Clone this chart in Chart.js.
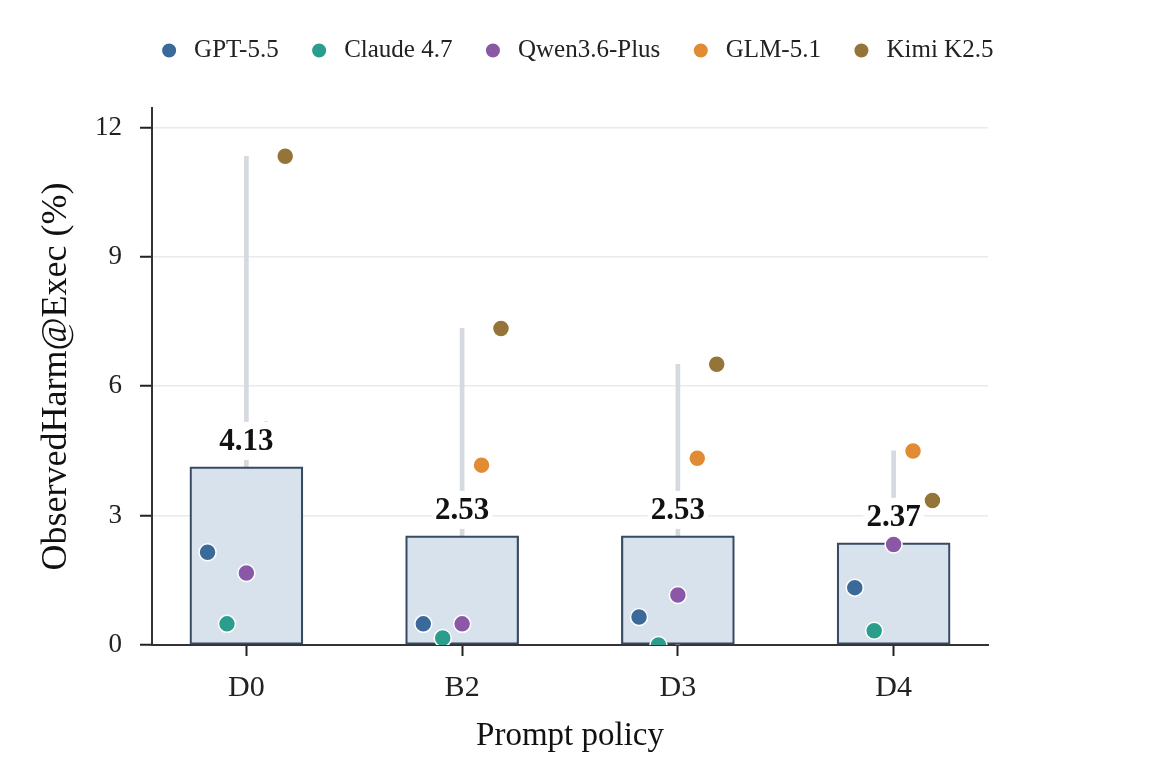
<!DOCTYPE html>
<html>
<head>
<meta charset="utf-8">
<script src="https://cdn.jsdelivr.net/npm/chart.js@4.4.1/dist/chart.umd.min.js"></script>
<style>
  html, body { margin: 0; padding: 0; background: #fff; }
  #wrap { width: 1160px; height: 763px; }
</style>
</head>
<body>
<div id="wrap"><canvas id="chart"></canvas></div>
<script>
// categories and values
var policies = ["D0", "B2", "D3", "D4"];
var meanValues = [4.13, 2.53, 2.53, 2.37];

var models = ["GPT-5.5", "Claude 4.7", "Qwen3.6-Plus", "GLM-5.1", "Kimi K2.5"];
var gptValues = [2.15, 0.49, 0.65, 1.33];
var claudeValues = [0.49, 0.16, 0.0, 0.33];
var qwenValues = [1.67, 0.49, 1.16, 2.33];
var glmValues = [5.0, 4.17, 4.33, 4.5];
var kimiValues = [11.33, 7.34, 6.51, 3.35];

var yTicks = [0, 3, 6, 9, 12];

var modelValues = [gptValues, claudeValues, qwenValues, glmValues, kimiValues];
var modelColors = ["#3a699a", "#2a9d8c", "#8a58a7", "#e28b35", "#957439"];

var FONT = "'Liberation Serif', 'Times New Roman', serif";

// bar data
var barData = [];
for (var i = 0; i < policies.length; i++) {
  barData.push({ x: i, y: meanValues[i] });
}

// min-max range per policy
var rangeData = [];
for (var i = 0; i < policies.length; i++) {
  var vals = [];
  for (var m = 0; m < modelValues.length; m++) {
    vals.push(modelValues[m][i]);
  }
  rangeData.push({ x: i, y: [Math.min.apply(null, vals), Math.max.apply(null, vals)] });
}

// one scatter dataset per model, spread sideways around the category
var datasets = [];
for (var m = 0; m < models.length; m++) {
  var pts = [];
  for (var i = 0; i < policies.length; i++) {
    pts.push({ x: i + (m - 2) * 0.09, y: modelValues[m][i] });
  }
  datasets.push({
    type: "scatter",
    label: models[m],
    data: pts,
    backgroundColor: modelColors[m],
    borderColor: "#ffffff",
    borderWidth: 1.5,
    pointRadius: 8.5,
    pointHoverRadius: 8.5,
    clip: 0,
    order: 1
  });
}

datasets.push({
  type: "bar",
  label: "mean",
  data: barData,
  backgroundColor: "#d8e2ec",
  borderColor: "#374a63",
  borderWidth: 2.2,
  borderSkipped: false,
  barThickness: 113,
  grouped: false,
  order: 2
});

datasets.push({
  type: "bar",
  label: "range",
  data: rangeData,
  backgroundColor: "#d5d9e0",
  borderWidth: 0,
  barThickness: 4,
  grouped: false,
  order: 3
});

// value labels with a white box behind them
var valueLabels = {
  id: "valueLabels",
  afterDatasetsDraw: function (chart) {
    var ctx = chart.ctx;
    var meta = chart.getDatasetMeta(models.length);
    ctx.save();
    ctx.font = "bold 31px " + FONT;
    ctx.textAlign = "center";
    ctx.textBaseline = "middle";
    for (var i = 0; i < meta.data.length; i++) {
      var bar = meta.data[i];
      var txt = meanValues[i].toFixed(2);
      var w = ctx.measureText(txt).width + 6;
      var cy = bar.y - 26;
      ctx.fillStyle = "#ffffff";
      ctx.fillRect(bar.x - w / 2, cy - 19, w, 38);
      ctx.fillStyle = "#111111";
      ctx.fillText(txt, bar.x, cy + 1);
    }
    ctx.restore();
  }
};

// legend: taller box and moved over to where it sits in the figure
var legendFix = {
  id: "legendFix",
  beforeInit: function (chart) {
    var origFit = chart.legend.fit;
    chart.legend.fit = function () {
      origFit.call(this);
      this.height = 98;
    };
  },
  afterLayout: function (chart) {
    var lg = chart.legend;
    var dx = 575 - (lg.left + lg.right) / 2;
    lg.left += dx;
    lg.right += dx;
  }
};

var ctx = document.getElementById("chart").getContext("2d");
var chart = new Chart(ctx, {
  data: { datasets: datasets },
  plugins: [valueLabels, legendFix],
  options: {
    responsive: true,
    maintainAspectRatio: false,
    animation: false,
    layout: { padding: { left: 15, right: 172, top: 10, bottom: 0 } },
    plugins: {
      tooltip: { enabled: false },
      legend: {
        position: "top",
        labels: {
          filter: function (item) {
            return item.datasetIndex < models.length;
          },
          usePointStyle: true,
          pointStyle: "circle",
          boxWidth: 25,
          boxHeight: 11,
          padding: 28,
          color: "#222",
          font: { family: FONT, size: 25 }
        }
      }
    },
    scales: {
      x: {
        type: "linear",
        min: -0.4375,
        max: 3.4375,
        offset: false,
        afterFit: function (scale) { scale.height = 118; },
        border: { display: true, color: "#333", width: 2 },
        grid: { offset: false, drawOnChartArea: false, tickLength: 11, tickColor: "#222", tickWidth: 2 },
        ticks: {
          stepSize: 1,
          includeBounds: false,
          padding: 14,
          color: "#222",
          font: { family: FONT, size: 30 },
          callback: function (v) {
            return policies[v] !== undefined ? policies[v] : "";
          }
        },
        title: {
          display: true,
          text: "Prompt policy",
          color: "#111",
          font: { family: FONT, size: 33 },
          padding: { top: 0, bottom: 7 }
        }
      },
      y: {
        min: 0,
        max: 12.45,
        afterFit: function (scale) { scale.width = 137; },
        afterBuildTicks: function (scale) {
          scale.ticks = yTicks.map(function (v) { return { value: v }; });
        },
        border: { display: true, color: "#333", width: 2 },
        grid: { color: "#e8eaef", lineWidth: 1.5, tickLength: 12, tickColor: "#222", tickWidth: 2 },
        ticks: {
          padding: 18,
          color: "#222",
          font: { family: FONT, size: 27 }
        },
        title: {
          display: true,
          text: "ObservedHarm@Exec (%)",
          color: "#111",
          font: { family: FONT, size: 36 },
          padding: { top: 20, bottom: 0 }
        }
      }
    }
  }
});
</script>
</body>
</html>
